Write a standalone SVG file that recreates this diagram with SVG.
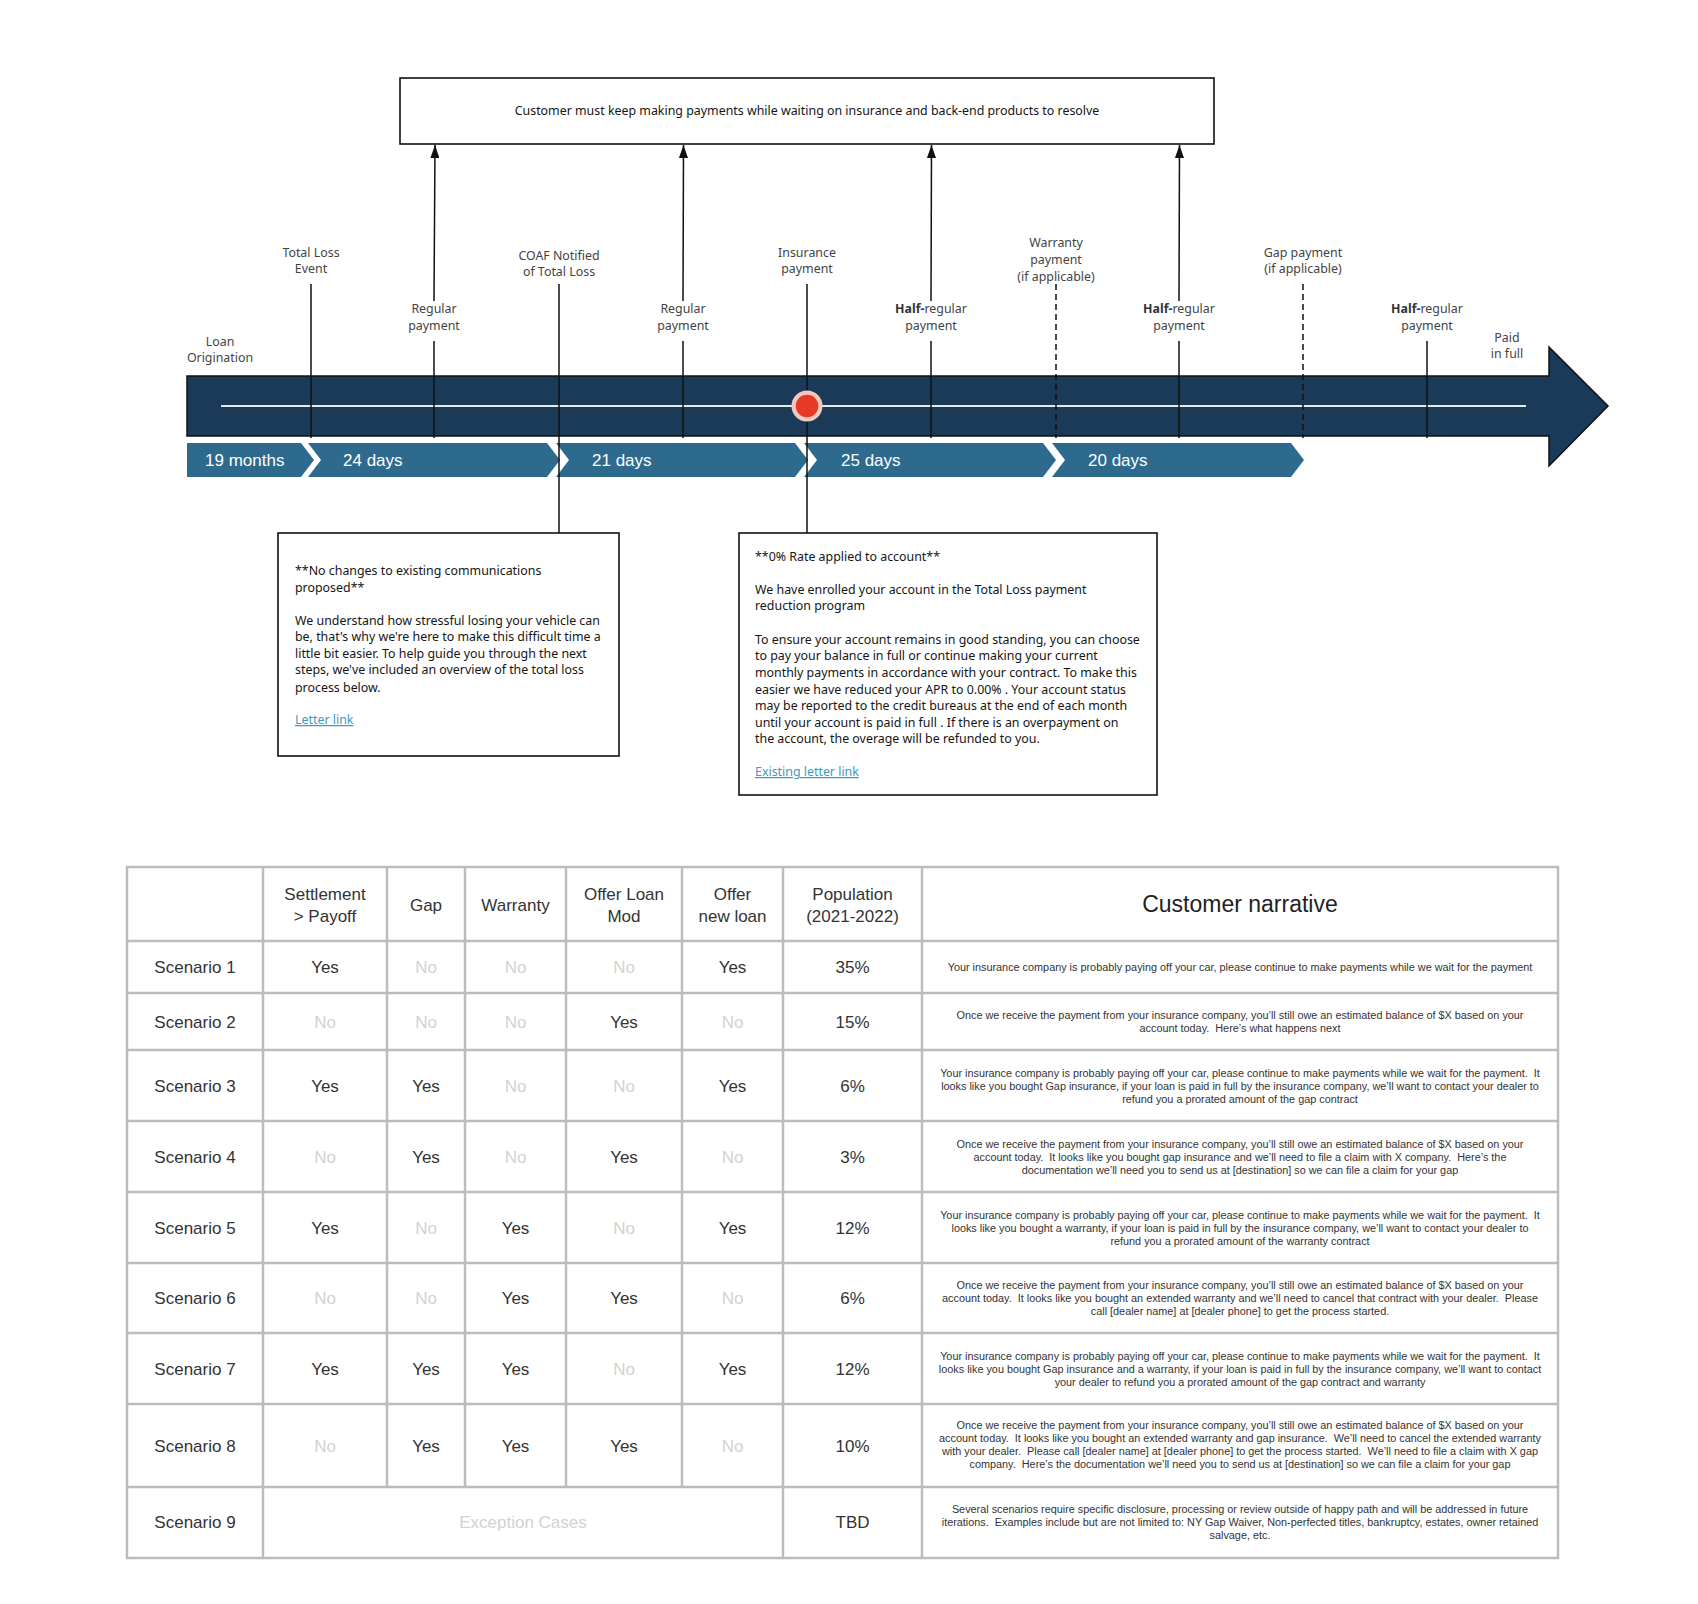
<svg xmlns="http://www.w3.org/2000/svg" width="1698" height="1604" viewBox="0 0 1698 1604">
<defs>
<style>
.lbl{font-family:"Noto Sans","Open Sans",sans-serif;font-size:12.4px;fill:#444;text-anchor:middle}
.b{font-weight:bold;fill:#333}
.letter{font-family:"Noto Sans","Open Sans",sans-serif;font-size:12.4px;fill:#151515}
.link{fill:#3a9cc4;text-decoration:underline}
.box{fill:#fff;stroke:#111;stroke-width:1.6}
.chev{fill:#2d6a8e}
.chevt{font-family:"Liberation Sans",Arial,sans-serif;font-size:17px;fill:#fff}
.tick{stroke:#111;stroke-width:1.5;fill:none}
.dash{stroke:#111;stroke-width:1.5;stroke-dasharray:6 4;fill:none}
.grid{stroke:#bcbcbc;stroke-width:2.5;fill:none}
.cell{font-family:"Liberation Sans",Arial,sans-serif;font-size:17px;fill:#333;text-anchor:middle}
.no{fill:#d2d2d2}
.narr{font-family:"Liberation Sans",Arial,sans-serif;font-size:10.85px;fill:#333;text-anchor:middle;white-space:pre}
</style>
<marker id="ah" markerUnits="userSpaceOnUse" markerWidth="13" markerHeight="9" viewBox="0 0 13 9" refX="13" refY="4.5" orient="auto">
<path d="M0,0 L13,4.5 L0,9 Z" fill="#111"/>
</marker>
</defs>
<rect width="1698" height="1604" fill="#fff"/>

<g id="top-box">
<rect class="box" x="400" y="78" width="814" height="66"/>
<text class="letter" x="807" y="115" text-anchor="middle">Customer must keep making payments while waiting on insurance and back-end products to resolve</text>
</g>

<g id="timeline-bar">
<path d="M187,376 H1549 V347 L1608,406 L1549,466 V436 H187 Z" fill="#1b3a58" stroke="#111" stroke-width="1.5"/>
<line x1="221" y1="406" x2="1526" y2="406" stroke="#e8e8e8" stroke-width="2"/>
</g>

<g id="durations">
<g id="dur-19-months"><path class="chev" d="M187,443 H301 L314,460 L301,477 H187 Z"/><text class="chevt" x="205" y="466">19 months</text></g>
<g id="dur-24-days"><path class="chev" d="M308,443 H547 L560,460 L547,477 H308 L321,460 Z"/><text class="chevt" x="343" y="466">24 days</text></g>
<g id="dur-21-days"><path class="chev" d="M556,443 H795 L808,460 L795,477 H556 L569,460 Z"/><text class="chevt" x="592" y="466">21 days</text></g>
<g id="dur-25-days"><path class="chev" d="M804,443 H1043 L1056,460 L1043,477 H804 L817,460 Z"/><text class="chevt" x="841" y="466">25 days</text></g>
<g id="dur-20-days"><path class="chev" d="M1052,443 H1291 L1304,460 L1291,477 H1052 L1065,460 Z"/><text class="chevt" x="1088" y="466">20 days</text></g>
</g>

<g id="connectors">
<line class="tick" x1="311" y1="284" x2="311" y2="438"/>
<line class="tick" x1="434" y1="341" x2="434" y2="438"/>
<line class="tick" x1="559" y1="284" x2="559" y2="533"/>
<line class="tick" x1="683" y1="341" x2="683" y2="438"/>
<line class="tick" x1="807" y1="284" x2="807" y2="533"/>
<line class="tick" x1="931" y1="341" x2="931" y2="438"/>
<line class="dash" x1="1056" y1="284" x2="1056" y2="438"/>
<line class="tick" x1="1179" y1="341" x2="1179" y2="438"/>
<line class="dash" x1="1303" y1="284" x2="1303" y2="438"/>
<line class="tick" x1="1427" y1="341" x2="1427" y2="438"/>
<line class="tick" x1="434" y1="301" x2="435" y2="145" marker-end="url(#ah)"/>
<line class="tick" x1="683" y1="301" x2="683.5" y2="145" marker-end="url(#ah)"/>
<line class="tick" x1="931" y1="301" x2="931.5" y2="145" marker-end="url(#ah)"/>
<line class="tick" x1="1179" y1="301" x2="1179.5" y2="145" marker-end="url(#ah)"/>
</g>

<g id="current-marker">
<circle cx="807" cy="406" r="15.5" fill="#f3c8c2"/>
<circle cx="807" cy="406" r="11.3" fill="#e63a27"/>
</g>

<g id="labels">
<g id="lbl-loan-origination"><text class="lbl" x="220" y="346">Loan</text><text class="lbl" x="220" y="362">Origination</text></g>
<g id="lbl-total-loss"><text class="lbl" x="311" y="257">Total Loss</text><text class="lbl" x="311" y="273">Event</text></g>
<g id="lbl-regular-1"><text class="lbl" x="434" y="313">Regular</text><text class="lbl" x="434" y="330">payment</text></g>
<g id="lbl-coaf"><text class="lbl" x="559" y="260">COAF Notified</text><text class="lbl" x="559" y="276">of Total Loss</text></g>
<g id="lbl-regular-2"><text class="lbl" x="683" y="313">Regular</text><text class="lbl" x="683" y="330">payment</text></g>
<g id="lbl-insurance"><text class="lbl" x="807" y="257">Insurance</text><text class="lbl" x="807" y="273">payment</text></g>
<g id="lbl-half-1"><text class="lbl" x="931" y="313"><tspan class="b">Half-</tspan>regular</text><text class="lbl" x="931" y="330">payment</text></g>
<g id="lbl-warranty"><text class="lbl" x="1056" y="247">Warranty</text><text class="lbl" x="1056" y="264">payment</text><text class="lbl" x="1056" y="281">(if applicable)</text></g>
<g id="lbl-half-2"><text class="lbl" x="1179" y="313"><tspan class="b">Half-</tspan>regular</text><text class="lbl" x="1179" y="330">payment</text></g>
<g id="lbl-gap"><text class="lbl" x="1303" y="257">Gap payment</text><text class="lbl" x="1303" y="273">(if applicable)</text></g>
<g id="lbl-half-3"><text class="lbl" x="1427" y="313"><tspan class="b">Half-</tspan>regular</text><text class="lbl" x="1427" y="330">payment</text></g>
<g id="lbl-paid"><text class="lbl" x="1507" y="342">Paid</text><text class="lbl" x="1507" y="358">in full</text></g>
</g>

<g id="letter-coaf">
<rect class="box" x="278" y="533" width="341" height="223"/>
<text class="letter" x="295" y="575">**No changes to existing communications</text>
<text class="letter" x="295" y="592">proposed**</text>
<text class="letter" x="295" y="625">We understand how stressful losing your vehicle can</text>
<text class="letter" x="295" y="641">be, that's why we're here to make this difficult time a</text>
<text class="letter" x="295" y="658">little bit easier. To help guide you through the next</text>
<text class="letter" x="295" y="674">steps, we've included an overview of the total loss</text>
<text class="letter" x="295" y="692">process below.</text>
<text class="letter link" x="295" y="724">Letter link</text>
</g>

<g id="letter-insurance">
<rect class="box" x="739" y="533" width="418" height="262"/>
<text class="letter" x="755" y="561">**0% Rate applied to account**</text>
<text class="letter" x="755" y="594">We have enrolled your account in the Total Loss payment</text>
<text class="letter" x="755" y="610">reduction program</text>
<text class="letter" x="755" y="644">To ensure your account remains in good standing, you can choose</text>
<text class="letter" x="755" y="660">to pay your balance in full or continue making your current</text>
<text class="letter" x="755" y="677">monthly payments in accordance with your contract. To make this</text>
<text class="letter" x="755" y="694">easier we have reduced your APR to 0.00% . Your account status</text>
<text class="letter" x="755" y="710">may be reported to the credit bureaus at the end of each month</text>
<text class="letter" x="755" y="727">until your account is paid in full . If there is an overpayment on</text>
<text class="letter" x="755" y="743">the account, the overage will be refunded to you.</text>
<text class="letter link" x="755" y="776">Existing letter link</text>
</g>

<g id="scenario-table">
<rect class="grid" x="127" y="867" width="1431" height="691" fill="#fff"/>
<path class="grid" d="M127,941H1558 M127,993H1558 M127,1050H1558 M127,1121H1558 M127,1192H1558 M127,1263H1558 M127,1333H1558 M127,1404H1558 M127,1487H1558 M263,867V1558 M387,867V1487 M465,867V1487 M566,867V1487 M682,867V1487 M783,867V1558 M922,867V1558"/>
<g id="table-header">
<text class="cell" x="325" y="900">Settlement</text><text class="cell" x="325" y="922">&gt; Payoff</text>
<text class="cell" x="426" y="911">Gap</text>
<text class="cell" x="515.5" y="911">Warranty</text>
<text class="cell" x="624" y="900">Offer Loan</text><text class="cell" x="624" y="922">Mod</text>
<text class="cell" x="732.5" y="900">Offer</text><text class="cell" x="732.5" y="922">new loan</text>
<text class="cell" x="852.5" y="900">Population</text><text class="cell" x="852.5" y="922">(2021-2022)</text>
<text class="cell" x="1240" y="912" style="font-size:23px;fill:#222">Customer narrative</text>
</g>
<g id="row-1">
<text class="cell" x="195" y="973">Scenario 1</text>
<text class="cell" x="325" y="973">Yes</text><text class="cell no" x="426" y="973">No</text><text class="cell no" x="515.5" y="973">No</text><text class="cell no" x="624" y="973">No</text><text class="cell" x="732.5" y="973">Yes</text><text class="cell" x="852.5" y="973">35%</text>
<text class="narr" x="1240" y="971">Your insurance company is probably paying off your car, please continue to make payments while we wait for the payment</text>
</g>
<g id="row-2">
<text class="cell" x="195" y="1028">Scenario 2</text>
<text class="cell no" x="325" y="1028">No</text><text class="cell no" x="426" y="1028">No</text><text class="cell no" x="515.5" y="1028">No</text><text class="cell" x="624" y="1028">Yes</text><text class="cell no" x="732.5" y="1028">No</text><text class="cell" x="852.5" y="1028">15%</text>
<text class="narr" x="1240" y="1019">Once we receive the payment from your insurance company, you’ll still owe an estimated balance of $X based on your</text>
<text class="narr" x="1240" y="1032">account today.  Here’s what happens next</text>
</g>
<g id="row-3">
<text class="cell" x="195" y="1092">Scenario 3</text>
<text class="cell" x="325" y="1092">Yes</text><text class="cell" x="426" y="1092">Yes</text><text class="cell no" x="515.5" y="1092">No</text><text class="cell no" x="624" y="1092">No</text><text class="cell" x="732.5" y="1092">Yes</text><text class="cell" x="852.5" y="1092">6%</text>
<text class="narr" x="1240" y="1077">Your insurance company is probably paying off your car, please continue to make payments while we wait for the payment.  It</text>
<text class="narr" x="1240" y="1090">looks like you bought Gap insurance, if your loan is paid in full by the insurance company, we’ll want to contact your dealer to</text>
<text class="narr" x="1240" y="1103">refund you a prorated amount of the gap contract</text>
</g>
<g id="row-4">
<text class="cell" x="195" y="1163">Scenario 4</text>
<text class="cell no" x="325" y="1163">No</text><text class="cell" x="426" y="1163">Yes</text><text class="cell no" x="515.5" y="1163">No</text><text class="cell" x="624" y="1163">Yes</text><text class="cell no" x="732.5" y="1163">No</text><text class="cell" x="852.5" y="1163">3%</text>
<text class="narr" x="1240" y="1148">Once we receive the payment from your insurance company, you’ll still owe an estimated balance of $X based on your</text>
<text class="narr" x="1240" y="1161">account today.  It looks like you bought gap insurance and we’ll need to file a claim with X company.  Here’s the</text>
<text class="narr" x="1240" y="1174">documentation we’ll need you to send us at [destination] so we can file a claim for your gap</text>
</g>
<g id="row-5">
<text class="cell" x="195" y="1234">Scenario 5</text>
<text class="cell" x="325" y="1234">Yes</text><text class="cell no" x="426" y="1234">No</text><text class="cell" x="515.5" y="1234">Yes</text><text class="cell no" x="624" y="1234">No</text><text class="cell" x="732.5" y="1234">Yes</text><text class="cell" x="852.5" y="1234">12%</text>
<text class="narr" x="1240" y="1219">Your insurance company is probably paying off your car, please continue to make payments while we wait for the payment.  It</text>
<text class="narr" x="1240" y="1232">looks like you bought a warranty, if your loan is paid in full by the insurance company, we’ll want to contact your dealer to</text>
<text class="narr" x="1240" y="1245">refund you a prorated amount of the warranty contract</text>
</g>
<g id="row-6">
<text class="cell" x="195" y="1304">Scenario 6</text>
<text class="cell no" x="325" y="1304">No</text><text class="cell no" x="426" y="1304">No</text><text class="cell" x="515.5" y="1304">Yes</text><text class="cell" x="624" y="1304">Yes</text><text class="cell no" x="732.5" y="1304">No</text><text class="cell" x="852.5" y="1304">6%</text>
<text class="narr" x="1240" y="1289">Once we receive the payment from your insurance company, you’ll still owe an estimated balance of $X based on your</text>
<text class="narr" x="1240" y="1302">account today.  It looks like you bought an extended warranty and we’ll need to cancel that contract with your dealer.  Please</text>
<text class="narr" x="1240" y="1315">call [dealer name] at [dealer phone] to get the process started.</text>
</g>
<g id="row-7">
<text class="cell" x="195" y="1375">Scenario 7</text>
<text class="cell" x="325" y="1375">Yes</text><text class="cell" x="426" y="1375">Yes</text><text class="cell" x="515.5" y="1375">Yes</text><text class="cell no" x="624" y="1375">No</text><text class="cell" x="732.5" y="1375">Yes</text><text class="cell" x="852.5" y="1375">12%</text>
<text class="narr" x="1240" y="1360">Your insurance company is probably paying off your car, please continue to make payments while we wait for the payment.  It</text>
<text class="narr" x="1240" y="1373">looks like you bought Gap insurance and a warranty, if your loan is paid in full by the insurance company, we’ll want to contact</text>
<text class="narr" x="1240" y="1386">your dealer to refund you a prorated amount of the gap contract and warranty</text>
</g>
<g id="row-8">
<text class="cell" x="195" y="1452">Scenario 8</text>
<text class="cell no" x="325" y="1452">No</text><text class="cell" x="426" y="1452">Yes</text><text class="cell" x="515.5" y="1452">Yes</text><text class="cell" x="624" y="1452">Yes</text><text class="cell no" x="732.5" y="1452">No</text><text class="cell" x="852.5" y="1452">10%</text>
<text class="narr" x="1240" y="1429">Once we receive the payment from your insurance company, you’ll still owe an estimated balance of $X based on your</text>
<text class="narr" x="1240" y="1442">account today.  It looks like you bought an extended warranty and gap insurance.  We’ll need to cancel the extended warranty</text>
<text class="narr" x="1240" y="1455">with your dealer.  Please call [dealer name] at [dealer phone] to get the process started.  We’ll need to file a claim with X gap</text>
<text class="narr" x="1240" y="1468">company.  Here’s the documentation we’ll need you to send us at [destination] so we can file a claim for your gap</text>
</g>
<g id="row-9">
<text class="cell" x="195" y="1528">Scenario 9</text>
<text class="cell no" x="523" y="1528">Exception Cases</text>
<text class="cell" x="852.5" y="1528">TBD</text>
<text class="narr" x="1240" y="1513">Several scenarios require specific disclosure, processing or review outside of happy path and will be addressed in future</text>
<text class="narr" x="1240" y="1526">iterations.  Examples include but are not limited to: NY Gap Waiver, Non-perfected titles, bankruptcy, estates, owner retained</text>
<text class="narr" x="1240" y="1539">salvage, etc.</text>
</g>
</g>
</svg>
